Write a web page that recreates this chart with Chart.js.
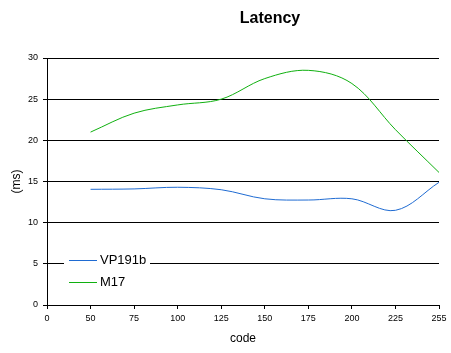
<!DOCTYPE html>
<html>
<head>
<meta charset="utf-8">
<script src="https://cdn.jsdelivr.net/npm/chart.js@4/dist/chart.umd.min.js"></script>
<style>
  html, body { margin: 0; padding: 0; background: #fff; }
  #wrap { width: 451px; height: 353px; position: relative; }
</style>
</head>
<body>
<div id="wrap"><canvas id="chart"></canvas></div>
<script>
// --- Data ---
const TITLE = 'Latency';
const categories = ['0', '50', '75', '100', '125', '150', '175', '200', '225', '255'];
const vp191b = [null, 14.05, 14.1, 14.3, 14.0, 12.9, 12.75, 12.9, 11.5, 14.9];
const m17 = [null, 21.0, 23.3, 24.3, 25.0, 27.5, 28.5, 26.9, 21.3, 16.1];
const yTicks = [0, 5, 10, 15, 20, 25, 30];

const FONT = '"Liberation Sans", Arial, sans-serif';

// title + in-plot legend, drawn on top of the chart
const overlay = {
    id: 'overlay',
    afterDraw(chart) {
        const ctx = chart.ctx;
        const area = chart.chartArea;
        ctx.save();

        // title
        ctx.fillStyle = '#000';
        ctx.font = 'bold 16px ' + FONT;
        ctx.textAlign = 'center';
        ctx.textBaseline = 'alphabetic';
        ctx.fillText(TITLE, 270, 23);

        // legend box (white, no border) in the lower left of the plot
        const lx = area.left + 17;
        const ly = area.bottom - 55;
        ctx.fillStyle = '#fff';
        ctx.fillRect(lx, ly, 86, 44);

        ctx.font = '13px ' + FONT;
        ctx.textAlign = 'left';
        ctx.textBaseline = 'middle';
        chart.data.datasets.forEach((ds, i) => {
            const y = ly + 10 + i * 22;
            ctx.strokeStyle = ds.borderColor;
            ctx.lineWidth = 1;
            ctx.beginPath();
            ctx.moveTo(lx + 5, y + 0.5);
            ctx.lineTo(lx + 33, y + 0.5);
            ctx.stroke();
            ctx.fillStyle = '#000';
            ctx.fillText(ds.label, lx + 36, y);
        });
        ctx.restore();
    }
};

new Chart(document.getElementById('chart'), {
    type: 'line',
    data: {
        labels: categories,
        datasets: [
            {
                label: 'VP191b',
                data: vp191b,
                borderColor: '#1f6bd2',
                borderWidth: 1,
                pointRadius: 0,
                tension: 0.35,
                fill: false
            },
            {
                label: 'M17',
                data: m17,
                borderColor: '#10b010',
                borderWidth: 1,
                pointRadius: 0,
                tension: 0.35,
                fill: false
            }
        ]
    },
    options: {
        responsive: true,
        maintainAspectRatio: false,
        animation: false,
        layout: { padding: { top: 58, right: 12, left: 0, bottom: 0 } },
        plugins: {
            legend: { display: false },
            title: { display: false },
            tooltip: { enabled: false }
        },
        scales: {
            x: {
                type: 'category',
                offset: false,
                grid: { drawOnChartArea: false, color: '#000', tickLength: 4 },
                border: { color: '#000' },
                ticks: {
                    color: '#000',
                    font: { family: FONT, size: 9 },
                    padding: 4,
                    maxRotation: 0,
                    autoSkip: false
                },
                title: {
                    display: true,
                    text: 'code',
                    color: '#000',
                    font: { family: FONT, size: 12 },
                    padding: { top: 0, bottom: 7 }
                },
                afterFit(scale) {
                    scale.height = 48;
                    scale.paddingLeft = 0;
                    scale.paddingRight = 0;
                }
            },
            y: {
                min: 0,
                max: 30,
                grid: { color: '#000', tickLength: 4 },
                border: { color: '#000' },
                afterBuildTicks(scale) {
                    scale.ticks = yTicks.map(v => ({ value: v }));
                },
                ticks: {
                    color: '#000',
                    font: { family: FONT, size: 9 },
                    padding: 5
                },
                title: {
                    display: true,
                    text: '(ms)',
                    color: '#000',
                    font: { family: FONT, size: 12 },
                    padding: { top: 9, bottom: 0 }
                },
                afterFit(scale) {
                    scale.width = 47;
                    scale.paddingTop = 0;
                    scale.paddingBottom = 0;
                }
            }
        }
    },
    plugins: [overlay]
});
</script>
</body>
</html>
